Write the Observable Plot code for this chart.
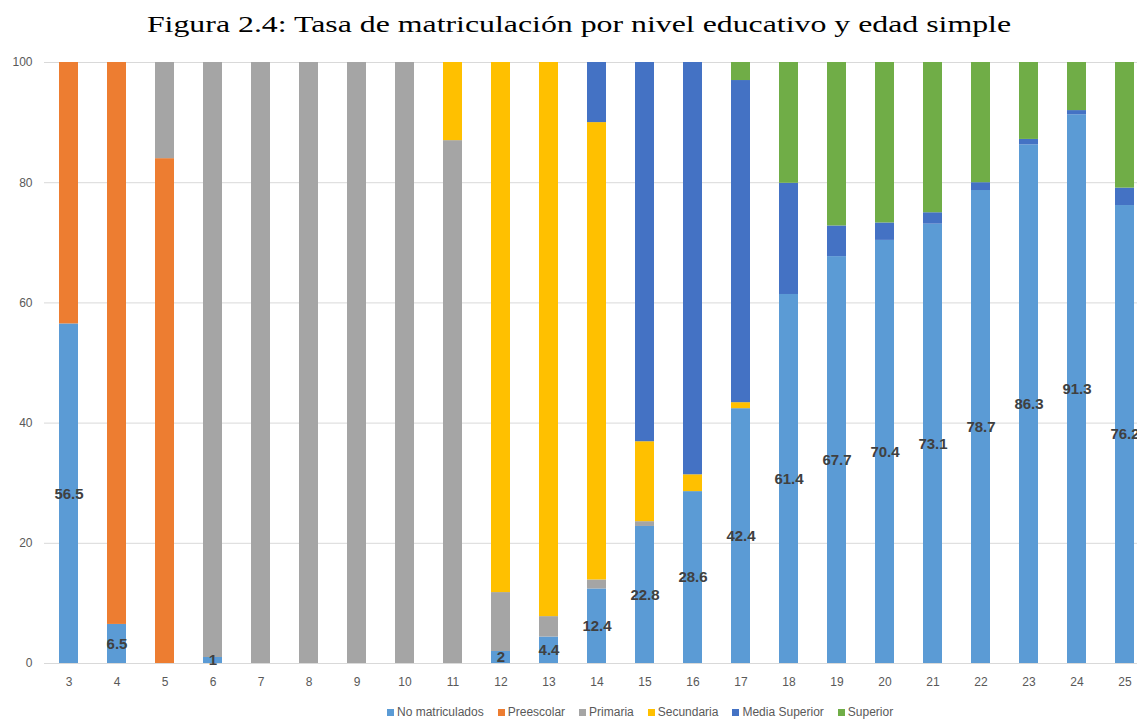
<!DOCTYPE html>
<html>
<head>
<meta charset="utf-8">
<script src="https://cdn.jsdelivr.net/npm/d3@7"></script>
<script src="https://cdn.jsdelivr.net/npm/@observablehq/plot@0.6"></script>
<style>
  html, body { margin: 0; padding: 0; background: #fff; }
  #wrap { position: relative; width: 1137px; height: 722px; overflow: hidden; }
  #title { position: absolute; top: 9px; left: 579px; transform: translateX(-50%) scaleX(1.326); transform-origin: 50% 50%; white-space: nowrap;
           font-family: "Liberation Serif", "DejaVu Serif", serif; font-size: 24px; color: #000; line-height: 30px; }
  #chart { position: absolute; top: 40px; left: 0; }
  #legend { position: absolute; top: 705px; left: 387px; display: flex; align-items: center;
            font-family: "Liberation Sans", Arial, sans-serif; font-size: 12px; color: #595959; white-space: nowrap; }
  #legend .item { display: flex; align-items: center; margin-right: 14px; }
  #legend .sw { width: 7px; height: 7px; margin-right: 3px; }
</style>
</head>
<body>
<div id="wrap">
  <div id="title">Figura 2.4: Tasa de matriculación por nivel educativo y edad simple</div>
  <div id="chart"></div>
  <div id="legend"></div>
</div>
<script>
const ages = [3, 4, 5, 6, 7, 8, 9, 10, 11, 12, 13, 14, 15, 16, 17, 18, 19, 20, 21, 22, 23, 24, 25];
const levels = ["No matriculados", "Preescolar", "Primaria", "Secundaria", "Media Superior", "Superior"];
const colors = ["#5B9BD5", "#ED7D31", "#A5A5A5", "#FFC000", "#4472C4", "#70AD47"];
const noMatriculados = [56.5, 6.5, 0, 1, 0, 0, 0, 0, 0, 2, 4.4, 12.4, 22.8, 28.6, 42.4, 61.4, 67.7, 70.4, 73.1, 78.7, 86.3, 91.3, 76.2];
const preescolar     = [43.5, 93.5, 84, 0, 0, 0, 0, 0, 0, 0, 0, 0, 0, 0, 0, 0, 0, 0, 0, 0, 0, 0, 0];
const primaria       = [0, 0, 16, 99, 100, 100, 100, 100, 87, 9.8, 3.4, 1.5, 0.8, 0, 0, 0, 0, 0, 0, 0, 0, 0, 0];
const secundaria     = [0, 0, 0, 0, 0, 0, 0, 0, 13, 88.2, 92.2, 76.1, 13.3, 2.8, 1.0, 0, 0, 0, 0, 0, 0, 0, 0];
const mediaSuperior  = [0, 0, 0, 0, 0, 0, 0, 0, 0, 0, 0, 10, 63.1, 68.6, 53.6, 18.5, 5.1, 2.9, 1.9, 1.3, 0.9, 0.7, 2.9];
const superior       = [0, 0, 0, 0, 0, 0, 0, 0, 0, 0, 0, 0, 0, 0, 3.0, 20.1, 27.2, 26.7, 25.0, 20.0, 12.8, 8.0, 20.9];
const yTicks = [0, 20, 40, 60, 80, 100];

const series = [noMatriculados, preescolar, primaria, secundaria, mediaSuperior, superior];
const rows = [];
series.forEach((vals, i) => vals.forEach((v, j) => rows.push({age: ages[j], level: levels[i], value: v})));
const labels = ages.map((a, j) => ({age: a, value: noMatriculados[j]})).filter(d => d.value > 0);

const font = "'Liberation Sans', Arial, sans-serif";
const plot = Plot.plot({
  width: 1137,
  height: 652,
  marginTop: 22,
  marginBottom: 29,
  marginLeft: 44,
  marginRight: 0,
  style: {fontFamily: font, fontSize: "12px", color: "#595959", background: "white"},
  x: {type: "band", domain: ages, range: [44, 1150], paddingInner: 0.6, paddingOuter: 0.3, label: null},
  y: {domain: [0, 100], label: null},
  color: {domain: levels, range: colors},
  marks: [
    Plot.ruleY(yTicks, {stroke: "#D9D9D9", strokeWidth: 1}),
    Plot.barY(rows, Plot.stackY({order: null}, {x: "age", y: "value", fill: "level", z: "level"})),
    Plot.text(labels, {x: "age", y: d => d.value / 2, text: d => String(d.value),
      fontWeight: "bold", fontSize: 15, fill: "#404040", fontFamily: font}),
    Plot.axisY({ticks: yTicks, tickSize: 0, tickPadding: 12, fill: "#595959", label: null}),
    Plot.axisX({tickSize: 0, tickPadding: 14, fill: "#595959", label: null})
  ]
});
document.getElementById("chart").appendChild(plot);

const leg = document.getElementById("legend");
levels.forEach((l, i) => {
  const item = document.createElement("div");
  item.className = "item";
  const sw = document.createElement("span");
  sw.className = "sw";
  sw.style.background = colors[i];
  const t = document.createElement("span");
  t.textContent = l;
  item.appendChild(sw);
  item.appendChild(t);
  leg.appendChild(item);
});
</script>
</body>
</html>
